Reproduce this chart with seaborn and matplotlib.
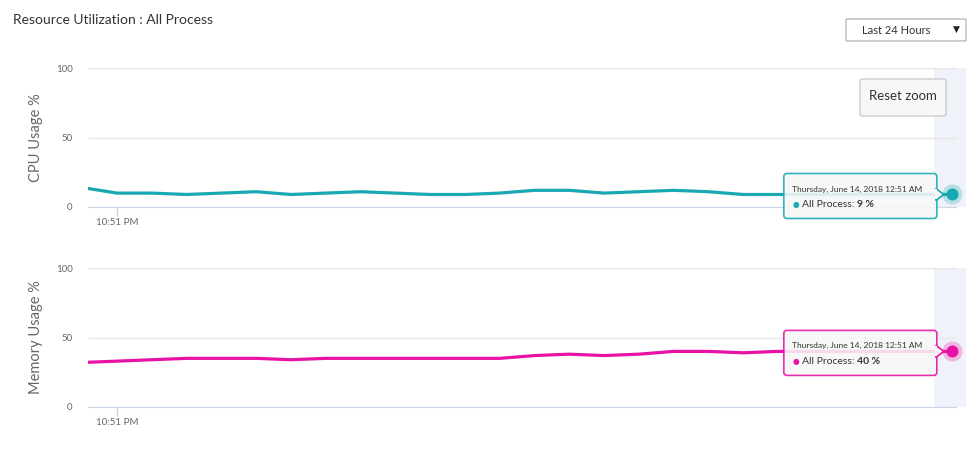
import numpy as np
import pandas as pd
import matplotlib
matplotlib.use("Agg")
import matplotlib.pyplot as plt
import matplotlib.dates as mdates
from matplotlib.patches import FancyBboxPatch, Polygon, Rectangle
from matplotlib.transforms import IdentityTransform
import seaborn as sns

# data (5-minute samples, last 2 hours of the zoomed view)
times = pd.date_range("2018-06-13 22:46", "2018-06-14 00:51", freq="5min")
cpu = [14, 10, 10, 9, 10, 11, 9, 10, 11, 10, 9, 9, 10, 12, 12, 10, 11, 12, 11,
       9, 9, 9, 9, 9, 9, 9]
memory = [32, 33, 34, 35, 35, 35, 34, 35, 35, 35, 35, 35, 35, 37, 38, 37, 38,
          40, 40, 39, 40, 40, 40, 40, 40, 40]
series_name = "All Process"
y_ticks = [0, 50, 100]
x_tick_times = [pd.Timestamp("2018-06-13 22:51")]
x_tick_labels = ["10:51 PM"]
hover_label = "Thursday, June 14, 2018 12:51 AM"

df = pd.DataFrame({"time": times, "cpu": cpu, "memory": memory})

sns.set_style("white")
plt.rcParams["font.family"] = ["Lato", "DejaVu Sans"]

W, H = 978, 451
fig = plt.figure(figsize=(W / 100, H / 100), dpi=100)


def fx(x):
    return x / W


def fy(y):
    return 1 - y / H


CPU_C = "#17a8b2"
MEM_C = "#e811a6"

ax1 = fig.add_axes([fx(88), fy(207), fx(956 - 88), 139 / H])
ax2 = fig.add_axes([fx(88), fy(407), fx(956 - 88), 139 / H])

panels = [(ax1, "cpu", CPU_C, "CPU Usage %"),
          (ax2, "memory", MEM_C, "Memory Usage %")]

x_left = times[1] - pd.Timedelta(minutes=4.17)
x_right = times[-1] + pd.Timedelta(minutes=0.6)
renderer = fig.canvas.get_renderer()

for ax, col, color, label in panels:
    band = ax.axvspan(times[-1] - pd.Timedelta(minutes=2.5),
                      times[-1] + pd.Timedelta(minutes=2.0),
                      color="#eff2f8", zorder=0, lw=0)
    band.set_clip_on(False)
    sns.lineplot(data=df, x="time", y=col, ax=ax, color=color, lw=2.3,
                 zorder=3)
    ax.set_xlim(x_left, x_right)
    ax.set_ylim(0, 100)
    ax.set_yticks(y_ticks)
    ax.set_yticklabels([str(v) for v in y_ticks])
    ax.set_xticks(x_tick_times)
    ax.set_xticklabels(x_tick_labels)
    ax.grid(axis="y", color="#e6e6e6", lw=1, zorder=1)
    ax.grid(axis="x", visible=False)
    for s in ["top", "left", "right"]:
        ax.spines[s].set_visible(False)
    ax.spines["bottom"].set_color("#ccd6eb")
    ax.spines["bottom"].set_zorder(2)
    ax.tick_params(axis="y", left=False, length=0, pad=11, labelsize=7,
                   labelcolor="#666666")
    ax.tick_params(axis="x", bottom=True, direction="out", length=6.5,
                   width=1, color="#ccd6eb", pad=1.5, labelsize=7,
                   labelcolor="#666666")
    ax.set_xlabel("")
    ax.set_ylabel(label, fontsize=10.5, color="#666666")
    ax.yaxis.label.set_rotation_mode("default")
    ax.yaxis.label.set_verticalalignment("center")
    ax.yaxis.set_label_coords(fx(36 - 88) / fx(956 - 88), 0.5)

    # hovered point with tooltip
    last_t = times[-1]
    last_v = df[col].iloc[-1]
    ax.scatter([last_t], [last_v], s=210, color=color, alpha=0.25, lw=0,
               zorder=4, clip_on=False)
    ax.scatter([last_t], [last_v], s=75, color=color, lw=0, zorder=5,
               clip_on=False)

    px, py = ax.transData.transform((mdates.date2num(last_t), last_v))
    right = px - 15
    left = right - 153
    cy = py - 1.5
    top, bottom = cy + 22.5, cy - 22.5
    box = FancyBboxPatch((left, bottom), right - left, top - bottom,
                         boxstyle="round,pad=0,rounding_size=3",
                         transform=IdentityTransform(), facecolor="#f7f7f7",
                         edgecolor=color, lw=1.2, alpha=0.88, zorder=10)
    fig.add_artist(box)
    arrow = Polygon([(right - 1, py + 6), (right + 7, py), (right - 1, py - 6)],
                    closed=True, transform=IdentityTransform(),
                    facecolor="#f7f7f7", edgecolor=color, lw=1.2, zorder=11)
    fig.add_artist(arrow)
    fig.add_artist(Rectangle((right - 1.5, py - 5), 2, 10,
                             transform=IdentityTransform(),
                             facecolor="#f7f7f7", lw=0, zorder=12))
    fig.text(left + 8, cy + 7, hover_label, transform=IdentityTransform(),
             fontsize=6, color="#333333", va="center", ha="left", zorder=13)
    fig.text(left + 12, cy - 9, "\u25CF", transform=IdentityTransform(),
             fontsize=5.5, color=color, va="center", ha="center",
             family=["DejaVu Sans"], zorder=13)
    t1 = fig.text(left + 18, cy - 9, f"{series_name}:", transform=IdentityTransform(),
                  fontsize=7.5, color="#333333", va="center", ha="left",
                  zorder=13)
    bb = t1.get_window_extent(renderer)
    fig.text(bb.x1 + 3, cy - 9, f"{last_v} %", transform=IdentityTransform(),
             fontsize=7.5, color="#333333", va="center", ha="left",
             fontweight="bold", zorder=13)

# title and controls
fig.text(fx(13), fy(20), "Resource Utilization : All Process", fontsize=10,
         color="#333333", ha="left", va="center")

fig.add_artist(FancyBboxPatch((fx(846), fy(41)), fx(966 - 846), (41 - 19) / H,
                              boxstyle="round,pad=0,rounding_size=0.002",
                              transform=fig.transFigure, facecolor="white",
                              edgecolor="#bbbbbb", lw=1))
fig.text(fx(896), fy(30), "Last 24 Hours", fontsize=8, color="#333333",
         ha="center", va="center")
fig.text(fx(956), fy(29), "\u25BC", fontsize=6.5, color="#222222",
         ha="center", va="center", family=["DejaVu Sans"])

fig.add_artist(FancyBboxPatch((fx(860), fy(116)), fx(946 - 860), (116 - 79) / H,
                              boxstyle="round,pad=0,rounding_size=0.004",
                              transform=fig.transFigure, facecolor="#f7f7f7",
                              edgecolor="#cccccc", lw=1, zorder=6))
fig.text(fx(903), fy(96), "Reset zoom", fontsize=9.5, color="#333333",
         ha="center", va="center", zorder=7)

fig.savefig("out.png", dpi=100)
